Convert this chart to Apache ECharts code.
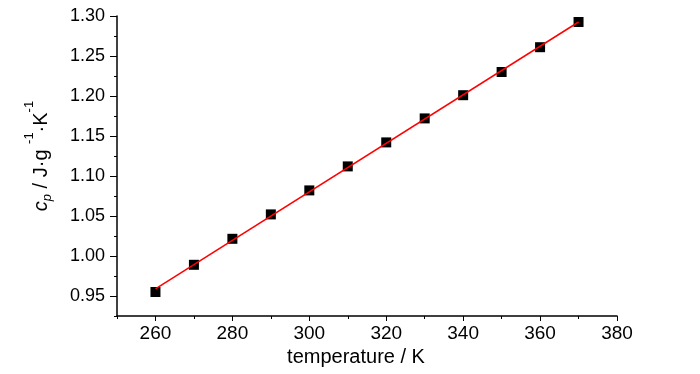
<!DOCTYPE html>
<html>
<head>
<meta charset="utf-8">
<script src="https://cdn.jsdelivr.net/npm/echarts@6/dist/echarts.min.js"></script>
<style>html,body{margin:0;padding:0;background:#fff}#c{width:700px;height:374px}</style>
</head>
<body>
<div id="c"></div>
<script>
const temperature = [260, 270, 280, 290, 300, 310, 320, 330, 340, 350, 360, 370];
const cp = [0.955, 0.989, 1.0215, 1.052, 1.082, 1.112, 1.142, 1.172, 1.201, 1.230, 1.261, 1.2925];
const fitX = [260, 370];
const fitY = [0.959, 1.2925];
const xMajorTicks = [260, 280, 300, 320, 340, 360, 380];
const xMinorTicks = [250, 260, 270, 280, 290, 300, 310, 320, 330, 340, 350, 360, 370, 380];
const yMajorTicks = [0.95, 1.00, 1.05, 1.10, 1.15, 1.20, 1.25, 1.30];
const yMinorTicks = [0.925, 0.95, 0.975, 1.00, 1.025, 1.05, 1.075, 1.10, 1.125, 1.15, 1.175, 1.20, 1.225, 1.25, 1.275, 1.30];

const FONT = '"Liberation Sans", Arial, sans-serif';
const chart = echarts.init(document.getElementById('c'), null, {renderer: 'canvas'});
const axisLine = {show: true, lineStyle: {color: '#000', width: 1.5}};
chart.setOption({
  animation: false,
  backgroundColor: '#fff',
  grid: {left: 117, right: 83, top: 16, bottom: 58, containLabel: false, outerBoundsMode: 'none'},
  xAxis: [{
    type: 'value', min: 250, max: 380,
    axisLine: axisLine,
    splitLine: {show: false},
    axisTick: {show: true, inside: false, length: 5, lineStyle: {color: '#000', width: 1}, customValues: xMajorTicks},
    axisLabel: {color: '#000', fontFamily: FONT, fontSize: 19, margin: 8, customValues: xMajorTicks},
    name: 'temperature / K',
    nameLocation: 'middle', nameGap: 27,
    nameTextStyle: {color: '#000', fontFamily: FONT, fontSize: 20, verticalAlign: 'top', padding: [0, 22, 0, 0]}
  }, {
    type: 'value', min: 250, max: 380, position: 'bottom',
    axisLine: {show: false}, splitLine: {show: false},
    axisTick: {show: true, length: 3, lineStyle: {color: '#000', width: 1}, customValues: xMinorTicks},
    axisLabel: {show: false}
  }],
  yAxis: [{
    type: 'value', min: 0.925, max: 1.30,
    axisLine: axisLine,
    splitLine: {show: false},
    axisTick: {show: true, length: 7, lineStyle: {color: '#000', width: 1}, customValues: yMajorTicks},
    axisLabel: {color: '#000', fontFamily: FONT, fontSize: 18, margin: 12, customValues: yMajorTicks,
      formatter: v => v.toFixed(2)},
    name: '{i|c}{sub|p}{n| / J·g }{sup|-1}{n|·K}{sup|-1}',
    nameLocation: 'middle', nameGap: 66, nameRotate: 90,
    nameTextStyle: {
      color: '#000', fontFamily: FONT, fontSize: 20, padding: [0, 0, 0, 20],
      rich: {
        i: {fontFamily: FONT, fontSize: 20, fontStyle: 'italic', color: '#000', lineHeight: 28, verticalAlign: 'bottom'},
        sub: {fontFamily: FONT, fontSize: 13, fontStyle: 'italic', color: '#000', lineHeight: 28, verticalAlign: 'bottom', padding: [0, 0, -3, 0]},
        n: {fontFamily: FONT, fontSize: 20, color: '#000', lineHeight: 28, verticalAlign: 'bottom'},
        sup: {fontFamily: FONT, fontSize: 13, color: '#000', lineHeight: 28, verticalAlign: 'top'}
      }
    }
  }, {
    type: 'value', min: 0.925, max: 1.30, position: 'left',
    axisLine: {show: false}, splitLine: {show: false},
    axisTick: {show: true, length: 3, lineStyle: {color: '#000', width: 1}, customValues: yMinorTicks},
    axisLabel: {show: false}
  }],
  series: [{
    type: 'scatter', xAxisIndex: 0, yAxisIndex: 0,
    data: temperature.map((t, i) => [t, cp[i]]),
    symbol: 'rect', symbolSize: 10,
    itemStyle: {color: '#000', borderWidth: 0, opacity: 1},
    z: 2
  }, {
    type: 'line', xAxisIndex: 0, yAxisIndex: 0,
    data: fitX.map((t, i) => [t, fitY[i]]),
    showSymbol: false, symbol: 'none',
    lineStyle: {color: '#ff0000', width: 1.5},
    z: 3
  }]
});
</script>
</body>
</html>
